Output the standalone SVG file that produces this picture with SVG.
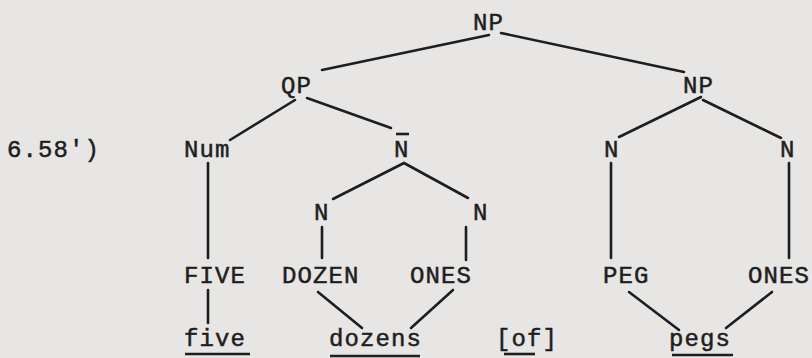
<svg xmlns="http://www.w3.org/2000/svg" width="812" height="358" viewBox="0 0 812 358">
<style>
text{font-family:"Liberation Mono","DejaVu Sans Mono",monospace;font-size:24px;letter-spacing:1.1px;fill:#1e1e1e;stroke:#1e1e1e;stroke-width:0.5}
.c line{stroke:#1e1e1e;stroke-width:2.6;stroke-linecap:round}
.u{stroke:#1e1e1e;stroke-width:2.6}
</style>
<rect width="812" height="358" fill="#e7e6e4"/>
<text id="label" x="7" y="157">6.58')</text>
<g class="c" id="connectors">
<line x1="489" y1="35" x2="322" y2="70"/>
<line x1="501" y1="33" x2="684" y2="72"/>
<line x1="295" y1="100" x2="230" y2="140"/>
<line x1="307" y1="98" x2="391" y2="128"/>
<line x1="404" y1="163" x2="333" y2="199"/>
<line x1="404" y1="163" x2="468" y2="198"/>
<line x1="208" y1="163" x2="208" y2="258"/>
<line x1="322" y1="227" x2="322" y2="258"/>
<line x1="466" y1="227" x2="466" y2="260"/>
<line x1="208" y1="290" x2="208" y2="323"/>
<line x1="318" y1="292" x2="362" y2="328"/>
<line x1="453" y1="290" x2="411" y2="328"/>
<line x1="701" y1="97" x2="619" y2="137"/>
<line x1="703" y1="100" x2="781" y2="138"/>
<line x1="611" y1="163" x2="611" y2="258"/>
<line x1="789" y1="163" x2="789" y2="258"/>
<line x1="629" y1="292" x2="679" y2="330"/>
<line x1="772" y1="292" x2="726" y2="328"/>
</g>
<g id="np-top"><text x="473" y="30">NP</text></g>
<g id="qp"><text x="281" y="93">QP</text></g>
<g id="np-right"><text x="683" y="93">NP</text></g>
<g id="num"><text x="184" y="157">Num</text></g>
<g id="nbar"><text x="394" y="157">N</text><line class="u" x1="396" y1="134" x2="409" y2="134"/></g>
<g id="n1"><text x="314" y="220">N</text></g>
<g id="n2"><text x="473" y="220">N</text></g>
<g id="n3"><text x="604" y="157">N</text></g>
<g id="n4"><text x="780" y="157">N</text></g>
<g id="five-cap"><text x="184" y="283">FIVE</text></g>
<g id="dozen-cap"><text x="282" y="283">DOZEN</text></g>
<g id="ones-cap1"><text x="410" y="283">ONES</text></g>
<g id="peg-cap"><text x="603" y="283">PEG</text></g>
<g id="ones-cap2"><text x="748" y="283">ONES</text></g>
<g id="five"><text x="184" y="346">five</text><line class="u" x1="185" y1="354" x2="250" y2="354"/></g>
<g id="dozens"><text x="329" y="346">dozens</text><line class="u" x1="330" y1="356" x2="420" y2="356"/></g>
<g id="of"><text x="496" y="346">[of]</text><line class="u" x1="504" y1="354" x2="535" y2="354"/></g>
<g id="pegs"><text x="669" y="346">pegs</text><line class="u" x1="672" y1="355" x2="733" y2="355"/></g>
</svg>
